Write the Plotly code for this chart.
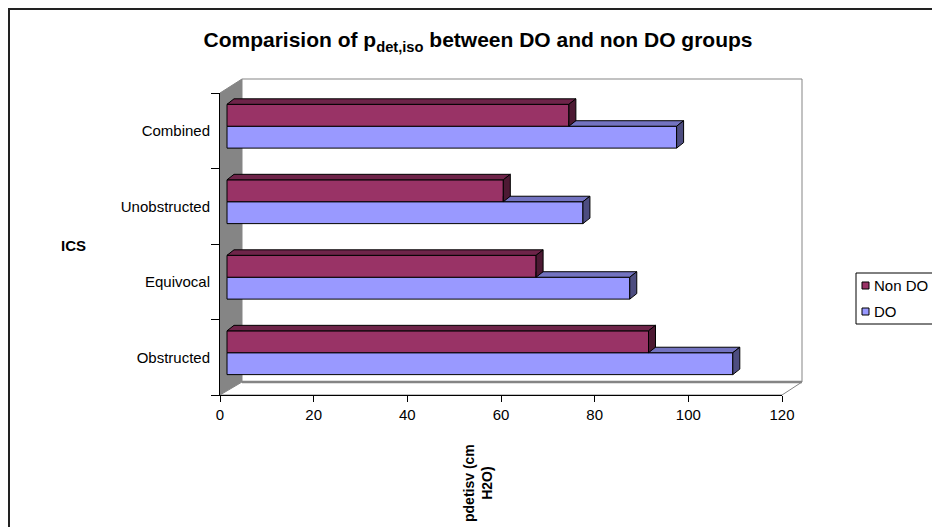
import plotly.graph_objects as go

# ---------------- data ----------------
categories = ["Obstructed", "Equivocal", "Unobstructed", "Combined"]
do_values = [108, 86, 76, 96]
non_do_values = [90, 66, 59, 73]
series_names = ["Non DO", "DO"]
x_ticks = [0, 20, 40, 60, 80, 100, 120]

# ---------------- style ----------------
FONT = "Liberation Sans, Arial, sans-serif"
C_NON = "#993366"; C_NON_TOP = "#6E2449"; C_NON_SIDE = "#4D1933"
C_DO = "#9999FF"; C_DO_TOP = "#7373C0"; C_DO_SIDE = "#4D4D80"

W, H = 940, 527
PAGE = 8                                  # page body margin (screen offset)
L, R, T, B = 220, 782, 93, 395            # plot area, screen pixels
px_per_x = (R - L) / 120.0
px_per_cat = (B - T) / 4.0
SHIFT = 7 / px_per_x                      # bars sit a little behind the wall front
DX = 7 / px_per_x                         # 3D depth of bars, x units
DY = 5.5 / px_per_cat                     # 3D depth of bars, category units
W_BAR = 0.29
OFF_DO, OFF_NON = -0.23, 0.06


def xp(px):
    return (px - L) / (R - L)


def yp(py):
    return (B - py) / (B - T)


fig = go.Figure()
fig.add_trace(go.Bar(
    y=categories, x=do_values, base=[SHIFT] * len(categories), orientation="h",
    name=series_names[1], offset=OFF_DO, width=W_BAR,
    marker=dict(color=C_DO, line=dict(color="black", width=1)), showlegend=False))
fig.add_trace(go.Bar(
    y=categories, x=non_do_values, base=[SHIFT] * len(categories), orientation="h",
    name=series_names[0], offset=OFF_NON, width=W_BAR,
    marker=dict(color=C_NON, line=dict(color="black", width=1)), showlegend=False))

shapes = []

# chart outer border
shapes.append(dict(type="rect", xref="paper", yref="paper", x0=xp(9), x1=xp(960),
                   y0=yp(9), y1=yp(560), line=dict(color="#222", width=2), layer="below"))
# side wall
shapes.append(dict(type="path", xref="paper", yref="paper", layer="below",
                   path=f"M{xp(220)},{yp(93)} L{xp(242)},{yp(79)} L{xp(242)},{yp(382)} L{xp(220)},{yp(395)} Z",
                   fillcolor="#858585", line=dict(color="#858585", width=1)))
# floor
shapes.append(dict(type="path", xref="paper", yref="paper", layer="below",
                   path=f"M{xp(220)},{yp(395)} L{xp(242)},{yp(382)} L{xp(802)},{yp(382)} L{xp(782)},{yp(395)} Z",
                   fillcolor="white", line=dict(color="#858585", width=1)))
shapes.append(dict(type="line", xref="paper", yref="paper", layer="below",
                   x0=xp(242), x1=xp(802), y0=yp(382), y1=yp(382),
                   line=dict(color="#858585", width=2.5)))
# back wall edges
shapes.append(dict(type="path", xref="paper", yref="paper", layer="below",
                   path=f"M{xp(242)},{yp(79)} L{xp(802)},{yp(79)} L{xp(802)},{yp(382)}",
                   line=dict(color="#858585", width=1)))


def face(pts, color):
    p = "M" + " L".join(f"{x},{y}" for x, y in pts) + " Z"
    return dict(type="path", xref="x", yref="y", path=p, fillcolor=color,
                line=dict(color="black", width=1), layer="above")


for i in range(len(categories)):
    # DO bar faces
    yb = i + OFF_DO; yt = yb + W_BAR
    x1 = SHIFT + do_values[i]
    xn = SHIFT + non_do_values[i]
    shapes.append(face([(xn, yt), (x1, yt), (x1 + DX, yt + DY), (xn, yt + DY)], C_DO_TOP))
    shapes.append(face([(x1, yb), (x1, yt), (x1 + DX, yt + DY), (x1 + DX, yb + DY)], C_DO_SIDE))
    # Non DO bar faces
    yb = i + OFF_NON; yt = yb + W_BAR
    x0 = SHIFT
    shapes.append(face([(x0, yt), (xn, yt), (xn + DX, yt + DY), (x0 + DX, yt + DY)], C_NON_TOP))
    shapes.append(face([(xn, yb), (xn, yt), (xn + DX, yt + DY), (xn + DX, yb + DY)], C_NON_SIDE))

# legend (custom, drawn like the original box)
shapes.append(dict(type="rect", xref="paper", yref="paper", x0=xp(856), x1=xp(960),
                   y0=yp(273), y1=yp(324), line=dict(color="black", width=1), fillcolor="white"))
leg_colors = [C_NON, C_DO]
leg_y = [285.5, 311.5]
annotations = []
for name, col, ly in zip(series_names, leg_colors, leg_y):
    shapes.append(dict(type="rect", xref="paper", yref="paper", x0=xp(862), x1=xp(869),
                       y0=yp(ly - 3.5), y1=yp(ly + 3.5), fillcolor=col,
                       line=dict(color="black", width=1)))
    annotations.append(dict(xref="paper", yref="paper", x=xp(872), y=yp(ly), text=name,
                            showarrow=False, xanchor="left", yanchor="middle",
                            font=dict(family=FONT, size=15, color="black")))

# axis titles
annotations.append(dict(xref="paper", yref="paper", x=xp(73), y=yp(245), text="<b>ICS</b>",
                        showarrow=False, xanchor="center", yanchor="middle",
                        font=dict(family=FONT, size=15, color="black")))
annotations.append(dict(xref="paper", yref="paper", x=xp(478), y=yp(483),
                        text="<b>pdetisv (cm<br>H2O)</b>", textangle=-90,
                        showarrow=False, xanchor="center", yanchor="middle",
                        font=dict(family=FONT, size=14, color="black")))

fig.update_layout(
    width=W, height=H, autosize=False,
    margin=dict(l=L - PAGE, r=W - (R - PAGE), t=T - PAGE, b=H - (B - PAGE), pad=0),
    paper_bgcolor="white", plot_bgcolor="rgba(0,0,0,0)",
    barmode="overlay",
    title=dict(text="<b>Comparision of p<sub>det,iso</sub> between DO and non DO groups</b>",
               x=0.5, xanchor="center", y=1 - (40 - PAGE) / H, yanchor="middle",
               font=dict(family=FONT, size=21, color="black")),
    font=dict(family=FONT, size=15, color="black"),
    shapes=shapes, annotations=annotations,
    xaxis=dict(range=[0, 120], tickvals=x_ticks, ticktext=[str(v) for v in x_ticks],
               showgrid=False, zeroline=False, showline=True, linecolor="black",
               linewidth=1, ticks="outside", ticklen=6, tickcolor="black",
               tickfont=dict(family=FONT, size=15, color="black")),
    yaxis=dict(type="category", categoryorder="array", categoryarray=categories,
               range=[-0.5, 3.5], showgrid=False, zeroline=False, showline=True,
               linecolor="black", linewidth=1, ticks="outside", ticklen=8,
               tickcolor="black", tickson="boundaries", ticklabelstandoff=6,
               tickfont=dict(family=FONT, size=15, color="black")),
)

fig.write_html("out.html")
